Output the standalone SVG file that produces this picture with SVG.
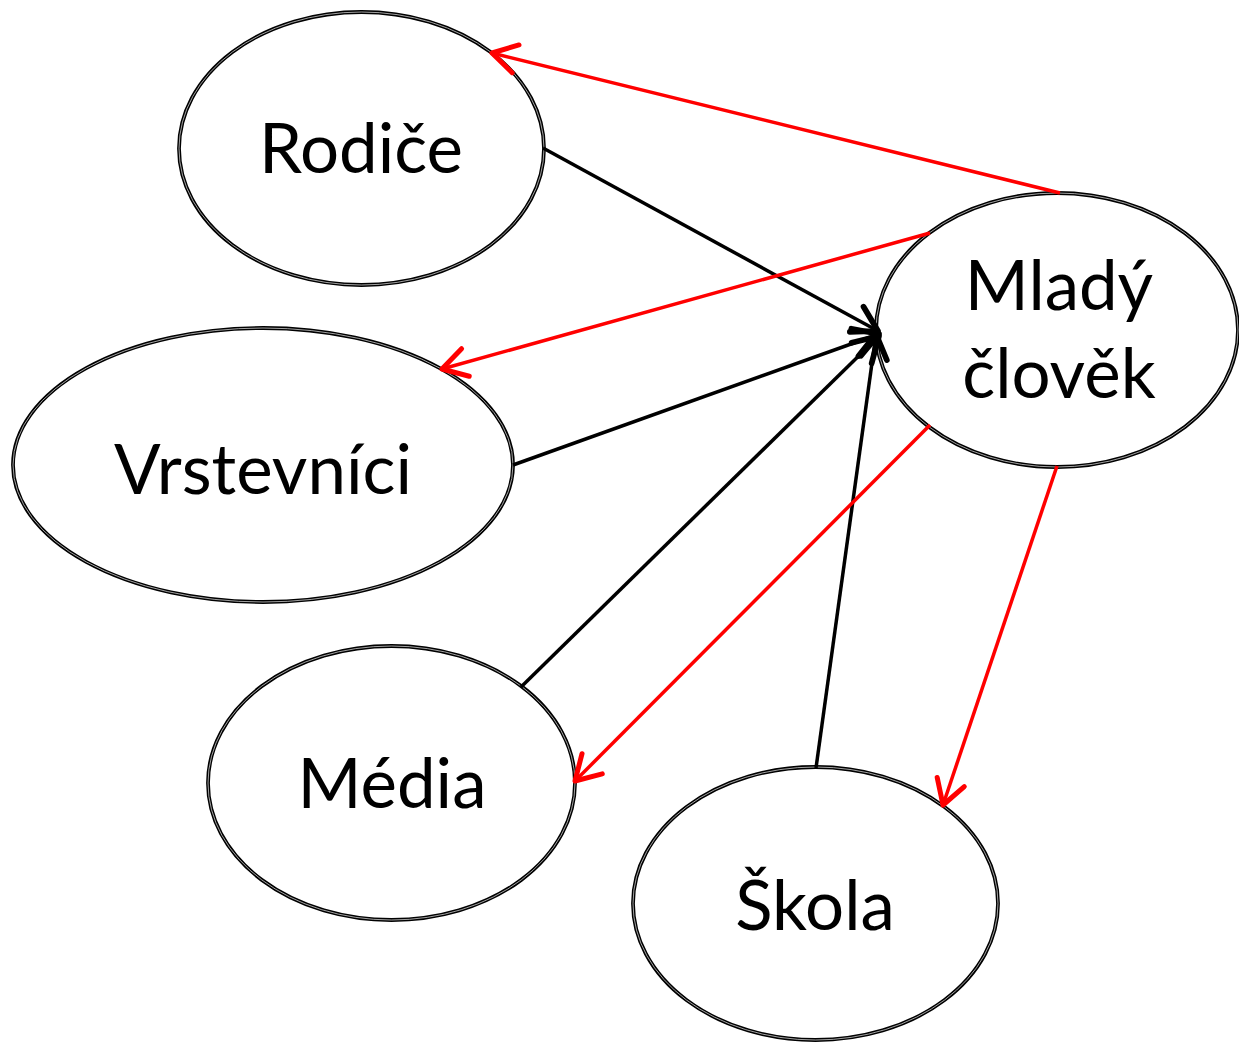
<svg xmlns="http://www.w3.org/2000/svg" width="1239" height="1044" viewBox="0 0 1239 1044">
<style>
.o{fill:#fff;stroke:#000;stroke-width:3.8}
.i{fill:none;stroke:#fff;stroke-width:0.8;stroke-opacity:0.8}
.t{font-family:Lato,"Open Sans",sans-serif;font-size:69px;fill:#000;text-anchor:middle}
.b{stroke:#000;stroke-width:3.5;fill:none;marker-end:url(#ab)}
.r{stroke:#f00;stroke-width:3.5;fill:none;marker-end:url(#ar)}
</style>
<defs>
<marker id="ab" markerUnits="userSpaceOnUse" markerWidth="40" markerHeight="40" viewBox="-22 -14 26 28" refX="0" refY="0" orient="auto">
<path d="M-17,-10 L0,0 L-17,10" fill="none" stroke="#000" stroke-width="4" stroke-linecap="round" stroke-linejoin="round"/>
</marker>
<marker id="ar" markerUnits="userSpaceOnUse" markerWidth="40" markerHeight="40" viewBox="-22 -14 26 28" refX="0" refY="0" orient="auto">
<path d="M-17,-10 L0,0 L-17,10" fill="none" stroke="#f00" stroke-width="3.5" stroke-linecap="round" stroke-linejoin="round"/>
</marker>
</defs>
<rect width="1239" height="1044" fill="#fff"/>
<g id="n-rodice">
<ellipse class="o" cx="361.5" cy="148.5" rx="182.5" ry="136.5"/>
<ellipse class="i" cx="361.5" cy="148.5" rx="182.5" ry="136.5"/>
<text class="t" x="361" y="173">Rodiče</text>
</g>
<g id="n-vrstevnici">
<ellipse class="o" cx="263" cy="465" rx="250" ry="137"/>
<ellipse class="i" cx="263" cy="465" rx="250" ry="137"/>
<text class="t" x="263" y="494">Vrstevníci</text>
</g>
<g id="n-media">
<ellipse class="o" cx="391.5" cy="783" rx="183.5" ry="137"/>
<ellipse class="i" cx="391.5" cy="783" rx="183.5" ry="137"/>
<text class="t" x="392" y="808">Média</text>
</g>
<g id="n-skola">
<ellipse class="o" cx="815.5" cy="903.5" rx="182.5" ry="136.5"/>
<ellipse class="i" cx="815.5" cy="903.5" rx="182.5" ry="136.5"/>
<text class="t" x="815" y="930">Škola</text>
</g>
<g id="n-mlady">
<ellipse class="o" cx="1057" cy="330" rx="181" ry="137"/>
<ellipse class="i" cx="1057" cy="330" rx="181" ry="137"/>
<text class="t" x="1059" y="310">Mladý</text>
<text class="t" x="1059" y="398">člověk</text>
</g>
<g id="connectors">
<line class="b" x1="543" y1="148" x2="878" y2="331"/>
<line class="b" x1="513" y1="465" x2="879" y2="334"/>
<line class="b" x1="521" y1="687" x2="879" y2="336"/>
<line class="b" x1="816" y1="768" x2="876" y2="334"/>
<line class="r" x1="1060" y1="193" x2="492" y2="53"/>
<line class="r" x1="930" y1="233" x2="442" y2="369"/>
<line class="r" x1="930" y1="425" x2="575" y2="781"/>
<line class="r" x1="1057" y1="466" x2="943" y2="805"/>
</g>
</svg>
